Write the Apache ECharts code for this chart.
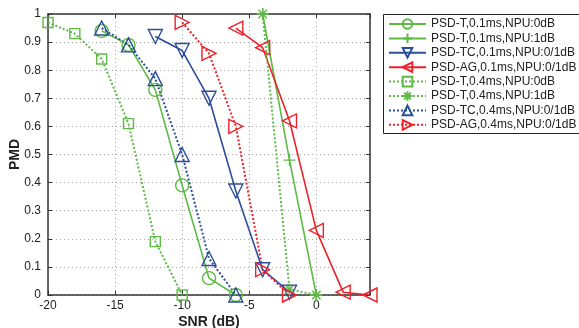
<!DOCTYPE html>
<html lang="en">
<head>
    <meta charset="UTF-8">
    <title>PMD vs SNR</title>
    <script src="https://cdn.jsdelivr.net/npm/echarts@6/dist/echarts.min.js"></script>
    <style>
        html, body { margin: 0; padding: 0; background: #fff; }
        #main { width: 579px; height: 328px; }
    </style>
</head>
<body>
    <div id="main"></div>
<script>
    // 数据
    var seriesNames = [
        'PSD-T,0.1ms,NPU:0dB',
        'PSD-T,0.1ms,NPU:1dB',
        'PSD-TC,0.1ms,NPU:0/1dB',
        'PSD-AG,0.1ms,NPU:0/1dB',
        'PSD-T,0.4ms,NPU:0dB',
        'PSD-T,0.4ms,NPU:1dB',
        'PSD-TC,0.4ms,NPU:0/1dB',
        'PSD-AG,0.4ms,NPU:0/1dB'
    ];
    var t01_0dB  = [[-16, 0.94], [-14, 0.89], [-12, 0.73], [-10, 0.39], [-8, 0.06], [-6, 0]];
    var t01_1dB  = [[-4, 1], [-2, 0.48], [0, 0]];
    var tc01     = [[-12, 0.92], [-10, 0.87], [-8, 0.70], [-6, 0.37], [-4, 0.09], [-2, 0.01]];
    var ag01     = [[-6, 0.95], [-4, 0.88], [-2, 0.62], [0, 0.23], [2, 0.01], [4, 0]];
    var t04_0dB  = [[-20, 0.97], [-18, 0.93], [-16, 0.84], [-14, 0.61], [-12, 0.19], [-10, 0]];
    var t04_1dB  = [[-4, 1], [-2, 0.02], [0, 0]];
    var tc04     = [[-16, 0.95], [-14, 0.89], [-12, 0.77], [-10, 0.50], [-8, 0.13], [-6, 0]];
    var ag04     = [[-10, 0.97], [-8, 0.86], [-6, 0.60], [-4, 0.09], [-2, 0]];

    var xTicks = [-20, -15, -10, -5, 0];

    var GREEN = '#5cba45', BLUE = '#2c4c9c', RED = '#ec2229';
    var PLUS = 'path://M5,0 L5,10 M0,5 L10,5';
    var STAR = 'path://M5,0 L5,10 M0,5 L10,5 M1.5,1.5 L8.5,8.5 M1.5,8.5 L8.5,1.5';
    var FONT = 'Liberation Sans, Arial, sans-serif';

    function mk(name, data, color, dotted, symbol, size, rotate) {
        return {
            name: name,
            type: 'line',
            data: data,
            symbol: symbol,
            symbolSize: size,
            symbolRotate: rotate || 0,
            showAllSymbol: true,
            z: 3,
            lineStyle: { color: color, width: dotted ? 2 : 1.6, type: dotted ? 'dotted' : 'solid' },
            itemStyle: { color: 'rgba(0,0,0,0)', borderColor: color, borderWidth: 1.4 }
        };
    }

    var series = [
        mk(seriesNames[0], t01_0dB, GREEN, false, 'circle', 13),
        mk(seriesNames[1], t01_1dB, GREEN, false, PLUS, 12),
        mk(seriesNames[2], tc01, BLUE, false, 'triangle', 14, 180),
        mk(seriesNames[3], ag01, RED, false, 'triangle', 14, 90),
        mk(seriesNames[4], t04_0dB, GREEN, true, 'rect', 10),
        mk(seriesNames[5], t04_1dB, GREEN, true, STAR, 12),
        mk(seriesNames[6], tc04, BLUE, true, 'triangle', 14),
        mk(seriesNames[7], ag04, RED, true, 'triangle', 14, -90)
    ];

    var axisText = { color: '#222', fontSize: 12, fontFamily: FONT };
    var nameText = { color: '#222', fontSize: 14, fontWeight: 'bold', fontFamily: FONT };
    var frameLine = { show: true, onZero: false, lineStyle: { color: '#333', width: 1.5 } };
    var inTick = { show: true, inside: true, length: 4, lineStyle: { color: '#333' } };
    var gridLine = { show: true, lineStyle: { color: '#aaa', type: [1, 3] } };

    var myChart = echarts.init(document.getElementById('main'));
    var option = {
        animation: false,
        backgroundColor: '#fff',
        grid: { left: 48, top: 14, right: 209, bottom: 33, containLabel: false, outerBoundsMode: 'none' },
        // 图例边框（右边超出画面）
        graphic: [{
            type: 'rect', left: 383, top: 14, z: -1, silent: true,
            shape: { width: 230, height: 119 },
            style: { fill: '#fff', stroke: '#222', lineWidth: 1 }
        }],
        legend: {
            orient: 'vertical',
            left: 383, top: 14,
            padding: [4, 6, 4, 5],
            itemWidth: 37, itemHeight: 12, itemGap: 2.4,
            selectedMode: false,
            textStyle: { color: '#222', fontSize: 12, fontFamily: FONT },
            data: seriesNames
        },
        xAxis: [{
            type: 'value', min: -20, max: 4, interval: 5,
            name: 'SNR (dB)', nameLocation: 'middle', nameGap: 20, nameMoveOverlap: false,
            nameTextStyle: nameText,
            axisLine: frameLine, axisTick: inTick,
            axisLabel: Object.assign({ margin: 5, formatter: function (v) { return xTicks.indexOf(v) >= 0 ? String(v) : ''; } }, axisText),
            splitLine: gridLine
        }, {
            type: 'value', min: -20, max: 4, interval: 5, position: 'top',
            axisLine: frameLine, axisTick: inTick,
            axisLabel: { show: false }, splitLine: { show: false }
        }],
        yAxis: [{
            type: 'value', min: 0, max: 1, interval: 0.1,
            name: 'PMD', nameLocation: 'middle', nameGap: 26, nameMoveOverlap: false,
            nameTextStyle: nameText,
            axisLine: frameLine, axisTick: inTick,
            axisLabel: Object.assign({ margin: 7, formatter: function (v) { return String(Math.round(v * 10) / 10); } }, axisText),
            splitLine: gridLine
        }, {
            type: 'value', min: 0, max: 1, interval: 0.1, position: 'right',
            axisLine: frameLine, axisTick: inTick,
            axisLabel: { show: false }, splitLine: { show: false }
        }],
        series: series
    };
    myChart.setOption(option);
</script>
</body>
</html>
